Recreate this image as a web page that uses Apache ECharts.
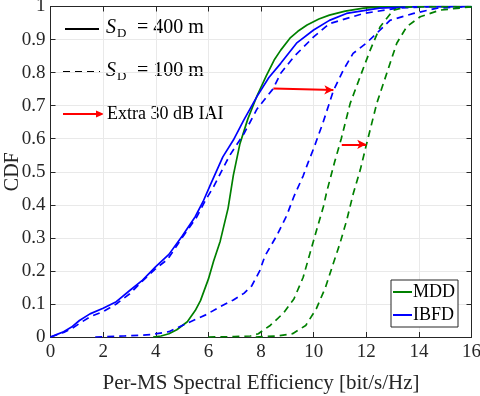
<!DOCTYPE html>
<html>
<head>
<meta charset="utf-8">
<script src="https://cdn.jsdelivr.net/npm/echarts@6/dist/echarts.min.js"></script>
<style>html,body{margin:0;padding:0;background:#fff}#c{width:480px;height:396px}</style>
</head>
<body>
<div id="c"></div>
<script>
// ---- data (x = spectral efficiency [bit/s/Hz], y = CDF) ----
const xTicks = [0, 2, 4, 6, 8, 10, 12, 14, 16];
const yTicks = [0, 0.1, 0.2, 0.3, 0.4, 0.5, 0.6, 0.7, 0.8, 0.9, 1];

const mdd400 = [[3.9,0],[4.2,0.003],[4.5,0.01],[4.8,0.022],[5.2,0.046],[5.5,0.08],[5.7,0.11],[6.0,0.175],[6.2,0.23],[6.45,0.29],[6.75,0.39],[6.95,0.49],[7.2,0.585],[7.5,0.66],[7.85,0.73],[8.2,0.79],[8.5,0.838],[8.75,0.868],[9.1,0.904],[9.4,0.925],[9.75,0.944],[10.2,0.962],[10.6,0.974],[11.2,0.986],[11.9,0.995],[12.6,0.999],[16,1]];

const ibfd400 = [[0,0],[0.25,0.008],[0.5,0.016],[0.8,0.03],[1.1,0.05],[1.5,0.07],[2,0.087],[2.5,0.107],[3,0.14],[3.5,0.172],[4,0.213],[4.5,0.25],[5,0.305],[5.5,0.364],[5.8,0.41],[6.1,0.465],[6.55,0.545],[6.95,0.596],[7.35,0.657],[7.85,0.728],[8.3,0.785],[8.75,0.828],[9.35,0.889],[10,0.929],[10.6,0.958],[11.25,0.979],[12.5,0.995],[14,1],[16,1]];

const ibfd100 = [[0,0],[0.25,0.007],[0.5,0.014],[0.8,0.025],[1.1,0.041],[1.5,0.061],[2,0.077],[2.5,0.1],[3,0.13],[3.5,0.17],[4,0.207],[4.45,0.235],[5,0.3],[5.55,0.362],[5.9,0.415],[6.2,0.455],[6.8,0.548],[7.35,0.615],[7.85,0.69],[8.45,0.75],[8.75,0.798],[9.25,0.848],[10,0.908],[10.6,0.948],[11.9,0.979],[13.2,0.995],[14.5,1],[16,1]];

const ibfd100Iai = [[1.7,0],[2.8,0.003],[3.8,0.007],[4.5,0.016],[5.2,0.042],[5.9,0.067],[6.45,0.092],[6.95,0.112],[7.35,0.132],[7.65,0.155],[7.95,0.2],[8.15,0.245],[8.6,0.307],[8.98,0.368],[9.25,0.425],[9.6,0.487],[9.8,0.53],[10.0,0.57],[10.35,0.647],[10.75,0.745],[11.13,0.808],[11.5,0.858],[12.0,0.889],[12.4,0.919],[12.9,0.958],[13.8,0.979],[14.7,0.995],[16,1]];

const mdd100 = [[6,0],[7,0.001],[7.6,0.003],[7.9,0.01],[8.35,0.035],[8.85,0.072],[9.25,0.115],[9.6,0.18],[9.85,0.25],[10.1,0.32],[10.37,0.394],[10.5,0.44],[10.8,0.53],[11.05,0.6],[11.39,0.707],[11.77,0.788],[12.15,0.868],[12.53,0.939],[13.03,0.989],[13.55,0.999],[16,1]];

const mdd100Iai = [[7.8,0],[8.6,0.003],[9.2,0.01],[9.7,0.035],[10.1,0.085],[10.45,0.15],[10.75,0.223],[11.0,0.283],[11.26,0.354],[11.51,0.435],[11.77,0.505],[12.0,0.58],[12.4,0.707],[12.78,0.798],[13.16,0.889],[13.54,0.939],[14.05,0.969],[14.8,0.989],[16,0.999]];

// red "Extra 30 dB IAI" arrows: [start, end]
const arrowIbfd = [[8.47, 0.752], [10.75, 0.747]];
const arrowMdd = [[11.07, 0.583], [12.0, 0.583]];

const legendNames = ['MDD', 'IBFD'];
const legendTop = ['= 400 m', '= 100 m', 'Extra 30 dB IAI'];

// ---- chart ----
const FONT = '"Liberation Serif", "Times New Roman", serif';
const GREEN = '#008000', BLUE = '#0000ff', RED = '#ff0000';
const chart = echarts.init(document.getElementById('c'), null, {renderer: 'canvas'});

function lineSeries(name, data, color, dashed, extra) {
  return Object.assign({
    name: name, type: 'line', data: data, symbol: 'none', smooth: false,
    lineStyle: {color: color, width: 1.7, type: dashed ? [7, 5] : 'solid'},
    itemStyle: {color: color}, silent: true, animation: false
  }, extra || {});
}
function arrowMark(a) {
  return [{coord: a[0]}, {coord: a[1]}];
}

const axisCommon = {
  type: 'value', min: 0,
  axisLine: {show: true, onZero: false, lineStyle: {color: '#262626', width: 1}},
  axisTick: {show: true, inside: true, length: 5, lineStyle: {color: '#262626'}},
};

const option = {
  animation: false,
  backgroundColor: '#fff',
  grid: {left: 50.5, right: 8.5, top: 6.5, bottom: 59, containLabel: false, outerBoundsMode: 'none'},
  xAxis: [
    Object.assign({}, axisCommon, {
      max: 16, interval: 2, position: 'bottom',
      axisLabel: {fontFamily: FONT, fontSize: 19, color: '#262626', margin: 6},
      splitLine: {show: true, lineStyle: {color: '#e9e9e9', width: 1}},
      name: 'Per-MS Spectral Efficiency [bit/s/Hz]', nameLocation: 'middle', nameGap: 36,
      nameMoveOverlap: false,
      nameTextStyle: {fontFamily: FONT, fontSize: 21, color: '#262626'}
    }),
    Object.assign({}, axisCommon, {
      max: 16, interval: 2, position: 'top',
      axisLabel: {show: false}, splitLine: {show: false}
    })
  ],
  yAxis: [
    Object.assign({}, axisCommon, {
      max: 1, interval: 0.1, position: 'left',
      axisLabel: {fontFamily: FONT, fontSize: 19, color: '#262626', margin: 5,
        formatter: v => String(Math.round(v * 10) / 10)},
      splitLine: {show: true, lineStyle: {color: '#e9e9e9', width: 1}},
      name: 'CDF', nameLocation: 'middle', nameGap: 28, nameRotate: 90,
      nameMoveOverlap: false,
      nameTextStyle: {fontFamily: FONT, fontSize: 20, color: '#262626'}
    }),
    Object.assign({}, axisCommon, {
      max: 1, interval: 0.1, position: 'right',
      axisLabel: {show: false}, splitLine: {show: false}
    })
  ],
  legend: {
    data: legendNames, orient: 'vertical', left: 391, top: 280,
    backgroundColor: '#fff', borderColor: '#262626', borderWidth: 1,
    padding: [3, 3, 3, 2], itemGap: 5, itemWidth: 19, itemHeight: 2, icon: 'rect',
    textStyle: {fontFamily: FONT, fontSize: 18, color: '#000', padding: [0, 0, 0, -4]},
    selectedMode: false
  },
  series: [
    lineSeries('MDD', mdd400, GREEN, false),
    lineSeries('IBFD', ibfd400, BLUE, false),
    lineSeries('IBFD 100 m', ibfd100, BLUE, true),
    lineSeries('IBFD 100 m IAI', ibfd100Iai, BLUE, true, {
      markLine: {silent: true, symbol: ['none', 'arrow'], symbolSize: [7, 9], animation: false,
        label: {show: false}, lineStyle: {color: RED, type: 'solid', width: 2},
        data: [arrowMark(arrowIbfd), arrowMark(arrowMdd)]}
    }),
    lineSeries('MDD 100 m', mdd100, GREEN, true),
    lineSeries('MDD 100 m IAI', mdd100Iai, GREEN, true)
  ],
  graphic: [
    {type: 'line', shape: {x1: 65, y1: 29, x2: 99, y2: 29}, style: {stroke: '#000', lineWidth: 2}},
    {type: 'text', x: 106, y: 28, style: {text: 'S', font: 'italic 20px ' + FONT, fill: '#000', verticalAlign: 'middle'}},
    {type: 'text', x: 117, y: 34, style: {text: 'D', font: '13px ' + FONT, fill: '#000', verticalAlign: 'middle'}},
    {type: 'text', x: 137, y: 28, style: {text: legendTop[0], font: '20px ' + FONT, fill: '#000', verticalAlign: 'middle'}},
    {type: 'line', shape: {x1: 63, y1: 72, x2: 100, y2: 72}, style: {stroke: '#000', lineWidth: 2, lineDash: [7, 5]}},
    {type: 'text', x: 106, y: 71, style: {text: 'S', font: 'italic 20px ' + FONT, fill: '#000', verticalAlign: 'middle'}},
    {type: 'text', x: 117, y: 77, style: {text: 'D', font: '13px ' + FONT, fill: '#000', verticalAlign: 'middle'}},
    {type: 'text', x: 137, y: 71, style: {text: legendTop[1], font: '20px ' + FONT, fill: '#000', verticalAlign: 'middle'}},
    {type: 'line', shape: {x1: 63, y1: 114, x2: 97, y2: 114}, style: {stroke: RED, lineWidth: 2}},
    {type: 'polygon', shape: {points: [[104, 114], [96, 110.5], [96, 117.5]]}, style: {fill: RED}},
    {type: 'text', x: 107, y: 114, style: {text: legendTop[2], font: '18px ' + FONT, fill: '#000', verticalAlign: 'middle'}}
  ]
};
chart.setOption(option);
</script>
</body>
</html>
